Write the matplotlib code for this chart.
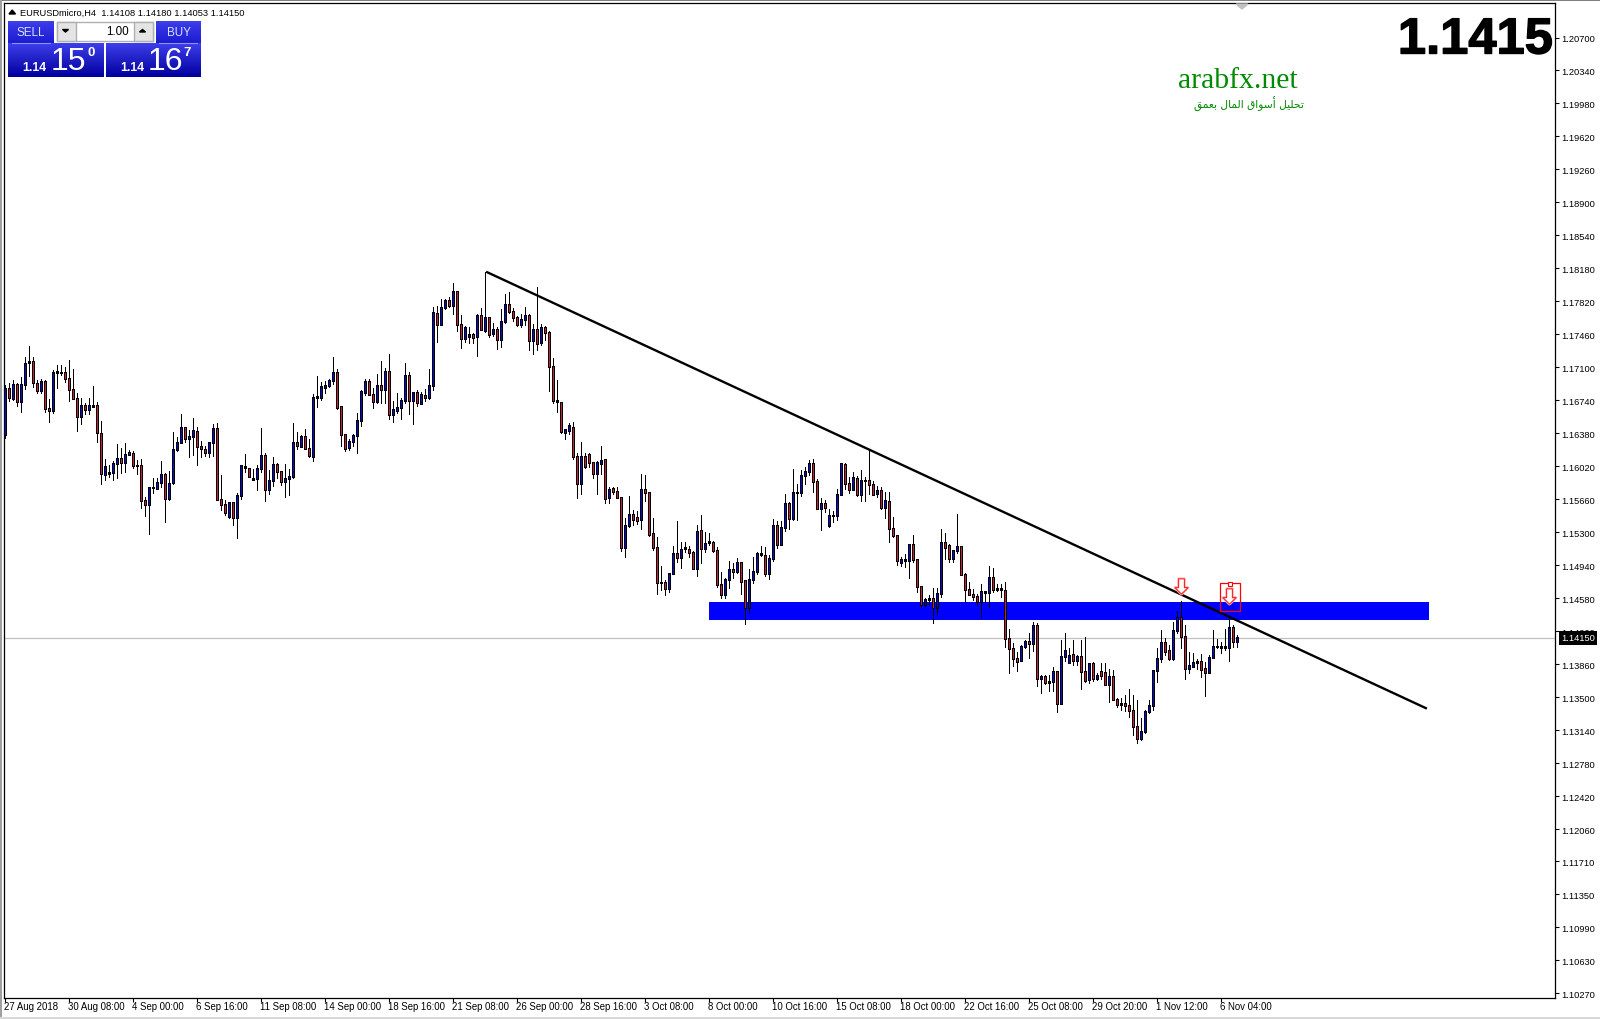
import numpy as np
import matplotlib
matplotlib.use("Agg")
import matplotlib.pyplot as plt
from matplotlib.path import Path
from matplotlib.patches import Rectangle, Polygon
from matplotlib.transforms import blended_transform_factory, ScaledTranslation
import matplotlib.patheffects as pe

# Prices in points (1 point = 0.00001)
highs = [
116908,116926,116962,116926,116991,117210,117333,117210,116962,116969,
116962,116755,117071,117122,117126,117100,117180,117082,116817,116762,
116707,116762,116897,116718,116515,116096,116034,116078,116260,116216,
116275,116198,116191,116089,116096,115689,115791,115889,115889,116078,
115944,115969,116395,116336,116591,116453,116416,116544,116453,116300,
116242,116285,116482,116489,115925,115652,115627,115627,115725,116027,
116151,115998,115991,116035,116438,116169,115980,116122,116060,115966,
116042,115987,116493,116398,116362,116424,116315,116810,117006,116940,
116955,116977,117210,117082,116668,116373,116318,116373,116599,116853,
116973,116970,116871,117024,117166,117090,117246,116729,116817,116762,
117144,117046,116828,116853,116835,116860,117082,117763,117766,117843,
117850,117865,118017,117930,117672,117552,117544,117472,117683,117744,
118145,117654,117581,117544,117734,117901,117919,117744,117661,117679,
117755,117683,117570,117974,117570,117548,117501,117199,116963,116726,
116424,116490,116504,116162,116282,116170,116162,116068,116075,116242,
116101,115791,115791,115791,115689,115453,115697,115544,115529,115937,
115922,115740,115453,115246,114933,114780,114856,115147,115424,115191,
115191,115151,115093,115380,115489,115307,115293,115209,115144,114864,
114798,114984,114962,115016,114980,114780,114896,115035,115082,115151,
115140,115053,115442,115424,115424,115715,115628,115991,115824,115981,
116010,116090,116097,115882,115671,115653,115555,115537,115770,116053,
116053,115901,115962,115919,115981,115901,116192,115861,115810,115791,
115744,115744,115464,115271,115035,115064,115173,115271,115009,114715,
114580,114616,114689,114689,115337,115289,115173,115107,115500,115151,
114853,114758,114678,114627,114733,114653,114933,114907,114736,114736,
114754,114241,114089,113998,114070,114125,114198,114318,114314,113743,
113743,113743,113834,113787,114125,114198,114034,114125,113961,114125,
114154,113870,113889,113761,113870,113870,113809,113798,113496,113492,
113525,113587,113521,113470,113270,113361,113470,113798,114034,114231,
114143,114070,114325,114438,114551,114292,113990,113979,113914,113972,
113889,113965,114234,114136,114107,114241,114361,114285,114180]

body_tops = [
116871,116871,116908,116908,116915,117144,117166,117166,116926,116948,
116948,116653,117046,117057,117046,117046,116980,116860,116762,116689,
116686,116686,116682,116686,116380,116020,115954,116053,116107,116107,
116151,116173,116162,116034,116031,115649,115791,115794,115845,115933,
115933,115834,116205,116282,116446,116446,116347,116413,116402,116238,
116205,116282,116435,116435,115660,115605,115627,115627,115703,116024,
116020,115994,115885,115998,116140,116140,115867,116042,116042,115966,
115889,115911,116282,116282,116347,116347,116217,116773,116777,116893,
116904,116962,117046,117046,116668,116369,116293,116358,116522,116839,
116948,116948,116806,116904,116904,117057,117057,116642,116664,116740,
117013,117013,116828,116828,116802,116795,116904,117701,117690,117755,
117832,117832,117926,117926,117570,117537,117461,117461,117668,117668,
117646,117646,117515,117515,117603,117788,117788,117712,117646,117624,
117668,117668,117515,117515,117537,117537,117483,117108,116741,116719,
116417,116461,116446,116130,116130,116130,116151,116064,116064,116086,
116097,115769,115777,115748,115682,115377,115497,115497,115464,115769,
115769,115737,115289,115136,114754,114754,114853,115071,115071,115115,
115129,115115,115082,115311,115322,115180,115198,115191,115104,114733,
114787,114896,114896,114973,114973,114769,114787,114875,115071,115071,
115049,115016,115377,115377,115355,115610,115610,115737,115737,115922,
115966,116053,116053,115857,115617,115617,115486,115486,115715,116046,
116042,115835,115893,115890,115868,115868,115868,115820,115755,115759,
115650,115639,115344,115264,115006,115006,115169,115169,115006,114711,
114569,114580,114580,114635,115191,115191,115158,115104,115147,115147,
114842,114678,114624,114602,114656,114653,114809,114809,114685,114682,
114667,114143,114034,113925,114056,114110,114110,114285,114285,113728,
113728,113674,113783,113783,113947,114012,113958,113969,113947,113947,
113783,113870,113870,113739,113783,113772,113728,113728,113477,113434,
113434,113412,113357,113183,113128,113346,113412,113794,113925,114103,
114100,114005,114231,114369,114369,114165,113849,113881,113892,113892,
113809,113936,114056,114056,114056,114049,114263,114263,114150]

body_bottoms = [
116369,116769,116762,116726,116726,116915,117151,116933,116846,116846,
116653,116627,116627,117042,117039,116977,116860,116762,116562,116562,
116642,116642,116675,116387,115944,115929,115940,115951,116049,116060,
116060,116147,116027,116027,115645,115602,115602,115787,115780,115842,
115667,115667,115842,116202,116282,116322,116322,116344,116235,116213,
116169,116169,116282,115656,115605,115514,115471,115460,115460,115700,
116009,115907,115878,115889,115995,115765,115765,115867,115962,115853,
115853,115885,115907,116246,116235,116213,116136,116126,116769,116769,
116879,116900,116955,116660,116369,116213,116224,116289,116355,116518,
116831,116806,116726,116726,116857,116857,116584,116584,116628,116660,
116740,116740,116740,116719,116704,116769,116769,116904,117570,117570,
117752,117777,117777,117570,117413,117413,117435,117428,117439,117512,
117501,117461,117468,117406,117406,117599,117712,117646,117566,117566,
117624,117395,117395,117362,117370,117483,117108,116737,116730,116399,
116388,116410,116126,115831,115831,116017,116061,115940,115940,116050,
115668,115679,115744,115679,115133,115133,115373,115438,115427,115438,
115733,115278,115133,114751,114747,114689,114689,114849,115024,115024,
115122,115078,114904,114904,115122,115122,115191,115100,114729,114620,
114620,114787,114871,114871,114765,114482,114482,114784,114871,115053,
114849,114849,115009,115166,115166,115355,115446,115449,115730,115730,
115919,115962,115857,115559,115559,115566,115369,115479,115482,115711,
115831,115770,115770,115711,115711,115864,115820,115715,115726,115566,
115566,115344,115264,114995,114976,114995,114995,114998,114707,114514,
114511,114562,114482,114482,114635,115133,115013,115013,115100,114842,
114678,114620,114598,114544,114544,114642,114642,114671,114671,114675,
114143,114034,113925,113889,113899,114052,114085,114085,113703,113703,
113659,113659,113670,113434,113434,113943,113878,113899,113899,113779,
113688,113692,113703,113703,113739,113638,113638,113474,113423,113419,
113408,113354,113179,113048,113048,113121,113343,113405,113790,113921,
113998,113921,113921,114227,114161,113812,113812,113841,113878,113805,
113768,113768,113936,114049,114041,114041,114041,114107,114108]

lows = [
116326,116737,116744,116682,116617,116860,117009,116889,116824,116824,
116617,116507,116606,116878,117017,116944,116737,116751,116409,116482,
116591,116591,116664,116289,115831,115874,115907,115874,115896,115951,
115962,116140,116002,115940,115569,115481,115285,115725,115773,115798,
115416,115656,115827,116187,116271,116285,116125,116147,116038,116125,
116133,116125,116136,115656,115543,115489,115452,115383,115241,115667,
115962,115900,115874,115762,115958,115645,115718,115809,115889,115816,
115689,115707,115889,116209,116227,116206,116126,116078,116668,116748,
116824,116882,116919,116642,116242,116191,116198,116246,116169,116464,
116799,116799,116660,116708,116715,116715,116537,116508,116606,116540,
116715,116595,116486,116682,116697,116737,116759,116857,117381,117563,
117737,117755,117683,117501,117315,117381,117370,117362,117228,117508,
117483,117435,117443,117304,117326,117581,117697,117606,117555,117544,
117566,117290,117250,117290,117344,117395,116843,116715,116617,116381,
116322,116373,116104,115679,115715,116006,116017,115893,115719,115933,
115624,115624,115719,115679,115100,115035,115362,115380,115388,115340,
115646,115260,115107,114627,114671,114620,114653,114845,114980,114915,
115089,115035,114896,114827,114969,115089,115162,115089,114707,114587,
114587,114696,114798,114853,114627,114300,114416,114751,114845,115046,
114824,114787,114991,115129,115166,115318,115340,115435,115435,115697,
115824,115930,115744,115555,115326,115526,115362,115417,115435,115708,
115770,115733,115762,115700,115646,115646,115719,115704,115690,115559,
115453,115198,115246,114947,114933,114926,114806,114980,114653,114489,
114500,114507,114314,114398,114598,115006,114973,114973,115078,114838,
114544,114616,114562,114507,114380,114544,114489,114653,114660,114598,
114052,113768,113841,113787,113899,114034,113932,114005,113627,113550,
113645,113572,113568,113343,113430,113899,113878,113852,113852,113594,
113670,113652,113681,113688,113696,113634,113445,113467,113390,113361,
113346,113288,113092,113005,113034,113114,113325,113357,113670,113881,
113961,113907,113907,114198,114041,113699,113761,113834,113805,113725,
113517,113761,113929,114034,113979,114012,113899,114045,114053]

directions = ("UDUDUUUDDU DDUUUDDDDU DUUDDUDUUD UUDUDDUUUU DUUUUDUUDD "
              "DUUDDDUDUU UDUUUDUUDD UUUDUDDUUU UUUDDDUUUU UDDUDUDUUU "
              "UDUDUDUUDU UDUDDUUDUD UDUDUUDDDU UDUDUDDDUD UUDDUDDDUU "
              "DUDDDUUDDU DDDDUDUUDU UDDUDUUDDD UUDUDDUUUU DUUDUUDUUU "
              "UUDDUDUUUU DDUDUUDDUD UDDDUUUDDD UUDUUDDUUD DDDDUUUDUU "
              "DDDDUUDUDU DDUDUUUDUD DUDUDDUDDD DDDDUUUUUU DDUUDDUUUD "
              "DUUUUUUDU").replace(" ", "")

time_labels = ["27 Aug 2018", "30 Aug 08:00", "4 Sep 00:00", "6 Sep 16:00", "11 Sep 08:00",
               "14 Sep 00:00", "18 Sep 16:00", "21 Sep 08:00", "26 Sep 00:00", "28 Sep 16:00",
               "3 Oct 08:00", "8 Oct 00:00", "10 Oct 16:00", "15 Oct 08:00", "18 Oct 00:00",
               "22 Oct 16:00", "25 Oct 08:00", "29 Oct 20:00", "1 Nov 12:00", "6 Nov 04:00"]
time_label_bars = list(range(0, 320, 16))

price_ticks = [1.20700, 1.20340, 1.19980, 1.19620, 1.19260, 1.18900, 1.18540, 1.18180, 1.17820, 1.17460,
               1.17100, 1.16740, 1.16380, 1.16020, 1.15660, 1.15300, 1.14940, 1.14580, 1.14220, 1.13860,
               1.13500, 1.13140, 1.12780, 1.12420, 1.12060, 1.11710, 1.11350, 1.10990, 1.10630, 1.10270]

bid_price = 1.14150
zone_prices = (1.14343, 1.14536)
zone_bars = (176.2, 356.1)
trend_bars = [120.4, 355.6]
trend_prices = [1.18144, 1.13376]
arrow_bars = [294.0, 306.0]
arrow_prices = [1.14709, 1.14604]

W, H = 1600, 1020
L, R, T, B = 3.5, 1554.5, 3.5, 998.5
PX = 0.00010913
plt.rcParams["font.family"] = ["Liberation Sans"]
fig = plt.figure(figsize=(W / 100, H / 100), dpi=100, facecolor="white")
ax = fig.add_axes([L / W, (H - B) / H, (R - L) / W, (B - T) / H])
ax.set_facecolor("white")
ax.set_xlim((L - 4.5) / 4, (R - 4.5) / 4)
ax.set_ylim(1.20700 - (B - 38.5) * PX, 1.20700 + (38.5 - T) * PX)

x = np.arange(len(highs))
hi = np.array(highs) / 1e5
lo = np.array(lows) / 1e5
top = np.array(body_tops) / 1e5
bot = np.array(body_bottoms) / 1e5
cols = ["#0a0acc" if d == "U" else "#c81e3c" for d in directions]

ax.add_patch(Rectangle((zone_bars[0], zone_prices[0]), zone_bars[1] - zone_bars[0],
                       zone_prices[1] - zone_prices[0], facecolor="#0000ff", edgecolor="none", zorder=1))
ax.axhline(bid_price, color="#c0c0c0", lw=0.9, zorder=1.5)
ax.vlines(x, lo, hi, color="black", lw=0.72, antialiased=False, zorder=2)
ax.vlines(x, bot - 0.5 * PX, top + 0.5 * PX, color="black", lw=2.16, antialiased=False,
          capstyle="butt", zorder=3)
inner = (top - bot) > 1.2 * PX
ax.vlines(x[inner], bot[inner] + 0.5 * PX, top[inner] - 0.5 * PX, colors=np.array(cols)[inner], lw=0.6,
          antialiased=False, capstyle="butt", zorder=3.5)
ax.plot(trend_bars, trend_prices, color="black", lw=1.7, solid_capstyle="butt", zorder=4)

# hand-placed sell arrows and selection box
arrow_path = Path([(-0.38, 1), (0.38, 1), (0.38, -0.15), (0.85, -0.15), (0, -1), (-0.85, -0.15),
                   (-0.38, -0.15), (-0.38, 1)], closed=True)
ax.plot(arrow_bars, arrow_prices, ls="none", marker=arrow_path, ms=11, mfc="white", mec="#ffb4b4", mew=2.0, zorder=5)
ax.plot(arrow_bars, arrow_prices, ls="none", marker=arrow_path, ms=11, mfc="white", mec="#ff2020", mew=0.8, zorder=6)
ax.add_patch(Rectangle((303.8, 1.14445), 5.1, 0.00299, facecolor="none", edgecolor="#ff0000", lw=0.9, zorder=6))
ax.plot([306.3], [1.14731], ls="none", marker="s", ms=3.4, mfc="white", mec="#ff0000", mew=0.8, zorder=7)

for s in ax.spines.values():
    s.set_linewidth(0.9)
    s.set_color("black")
ax.yaxis.tick_right()
ax.set_yticks(price_ticks)
ax.set_yticklabels([f"{p:.5f}" for p in price_ticks])
ax.set_xticks(time_label_bars)
ax.set_xticklabels(time_labels, ha="left")
ax.tick_params(axis="y", length=3, width=0.8, pad=1.6, labelsize=6.7, colors="black")
ax.tick_params(axis="x", length=3, width=0.8, pad=-0.5, labelsize=6.9, colors="black")
shift_left = ScaledTranslation(-1 / 100, 0, fig.dpi_scale_trans)
for lab in ax.get_xticklabels():
    lab.set_transform(lab.get_transform() + shift_left)

tr = blended_transform_factory(ax.transAxes, ax.transData)
ax.text(1.0 + 6.5 / (R - L), bid_price, "1.14150", transform=tr, color="white", fontsize=6.7, va="center",
        ha="left", clip_on=False, zorder=10,
        bbox=dict(boxstyle="square,pad=0.25", facecolor="black", edgecolor="black", lw=0))

# overlay in figure pixels for the terminal's panels and captions
ov = fig.add_axes([0, 0, 1, 1], facecolor="none")
ov.set_axis_off()

def grad(x0, x1, y0, y1, c0, c1):
    g = np.linspace(0, 1, 32)[:, None, None]
    c0, c1 = np.array(c0), np.array(c1)
    ov.imshow(c0 + (c1 - c0) * g, extent=(x0, x1, y1, y0), aspect="auto", zorder=2, interpolation="bilinear")

lt = (0.24, 0.24, 0.92)
mid = (0.10, 0.10, 0.82)
dk = (0.0, 0.0, 0.62)
grad(8, 54, 22, 45, lt, mid)
grad(156, 201, 22, 45, lt, mid)
grad(8, 104, 44, 78, lt, dk)
grad(106, 201, 44, 78, lt, dk)
ov.plot([12, 50], [44, 44], color="#9090f0", lw=0.8, zorder=3)
ov.plot([159, 197], [44, 44], color="#9090f0", lw=0.8, zorder=3)
ov.add_patch(Rectangle((56.5, 22.5), 96, 19, facecolor="#ffffff", edgecolor="#b0b0b0", lw=1, zorder=3))
ov.add_patch(Rectangle((56.5, 22.5), 19, 19, facecolor="#e4e4e4", edgecolor="#b0b0b0", lw=1, zorder=3))
ov.add_patch(Rectangle((133.5, 22.5), 19, 19, facecolor="#e4e4e4", edgecolor="#b0b0b0", lw=1, zorder=3))
ov.add_patch(Polygon([(62.5, 30.5), (68.5, 30.5), (65.5, 33)], color="black", zorder=4))
ov.add_patch(Polygon([(139.5, 33), (145.5, 33), (142.5, 30.5)], color="black", zorder=4))
ov.add_patch(Polygon([(9, 15), (15.5, 15), (12.2, 11), ], color="black", zorder=4))
ov.add_patch(Polygon([(1236, 5), (1248, 5), (1242, 10)], color="#c0c0c0", zorder=4))

ov.text(20, 13, "EURUSDmicro,H4  1.14108 1.14180 1.14053 1.14150", fontsize=6.7, va="center", ha="left", color="black", zorder=5)
ov.text(30.5, 32.5, "SELL", fontsize=8.4, color="#d8e0ff", va="center", ha="center", zorder=5)
ov.text(178.5, 32.5, "BUY", fontsize=8.4, color="#d8e0ff", va="center", ha="center", zorder=5)
ov.text(129, 32, "1.00", fontsize=8.4, color="black", va="center", ha="right", zorder=5)
ov.text(34.5, 68, "1.14", fontsize=8.8, fontweight="bold", color="white", va="center", ha="center", zorder=5)
ov.text(132, 68, "1.14", fontsize=8.8, fontweight="bold", color="white", va="center", ha="center", zorder=5)
ov.text(68, 62.5, "15", fontsize=23, color="white", va="center", ha="center", zorder=5)
ov.text(165, 62.5, "16", fontsize=23, color="white", va="center", ha="center", zorder=5)
ov.text(91, 53.5, "0", fontsize=9.5, fontweight="bold", color="white", va="center", ha="center", zorder=5)
ov.text(187.5, 53.5, "7", fontsize=9.5, fontweight="bold", color="white", va="center", ha="center", zorder=5)

ov.text(1553, 41, "1.1415", fontsize=36.5, fontweight="bold", color="black", va="center", ha="right", zorder=5,
        path_effects=[pe.withStroke(linewidth=1.0, foreground="black")])
ov.text(1237.5, 81, "arabfx.net", family="Liberation Serif", fontsize=21.3, color="#008a00", va="center", ha="center", zorder=5)
arabic_forms = "\uFE97\uFEA4\uFEE0\uFEF4\uFEDE \uFE83\uFEB3\uFEEE\uFE8D\uFED5 \uFE8D\uFEDF\uFEE4\uFE8E\uFEDD \uFE91\uFECC\uFEE4\uFED6"
ov.text(1249, 104, arabic_forms[::-1], family="DejaVu Sans", fontsize=7.7, color="#008a00", va="center", ha="center", zorder=5)

# window edges
ov.add_patch(Rectangle((0, 0), W, 1.5, facecolor="#808080", edgecolor="none", zorder=6))
ov.add_patch(Rectangle((0, 0), 2, H, facecolor="#a0a0a0", edgecolor="none", zorder=6))
ov.add_patch(Rectangle((0, 1018), W, 2, facecolor="#d8d8d8", edgecolor="none", zorder=6))

ov.set_xlim(0, W)
ov.set_ylim(H, 0)
fig.savefig("out.png", dpi=100, facecolor="white")
